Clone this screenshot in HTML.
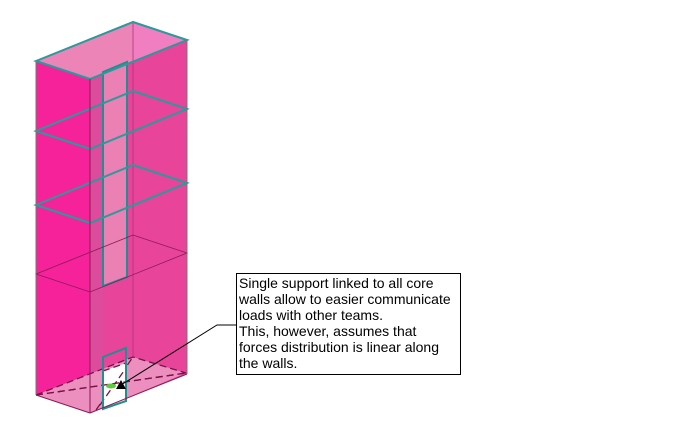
<!DOCTYPE html>
<html><head><meta charset="utf-8"><style>
body{margin:0;background:#fff;}
.t{position:absolute;left:236px;top:273px;border:1px solid #000;background:#fff;font:14px/16px "Liberation Sans",sans-serif;color:#000;padding:1px 0 0 2px;box-sizing:border-box;width:225px;height:102px;white-space:nowrap;overflow:hidden;}
</style></head><body>
<svg width="685" height="423" style="position:absolute;left:0;top:0">
<polygon points="36,61 90,79 90,413 36,395" fill="#f5229a"/>
<polygon points="90,79 187,40 187,374 90,413" fill="#e8449a"/>
<polygon points="90,79 103,74 103,408 90,413" fill="#de4a9c"/>
<polygon points="36,61 133,22 187,40 90,79" fill="#ec84b8"/>
<polygon points="133,22 187,40 133,61" fill="#f47cc4" opacity="0.7"/>
<line x1="133" y1="22" x2="133" y2="356" stroke="#b0327a" stroke-width="0.8"/>
<polygon points="36,395 133,357 186,373 90,413" fill="#ec8fbf"/>
<g fill="none" stroke="#7a1048" stroke-width="1.3" stroke-dasharray="7,4">
<polyline points="36,395 133,357 186,373"/>
<line x1="36" y1="395" x2="186" y2="373"/>
<line x1="96" y1="410" x2="133" y2="357"/>
</g>
<polygon points="103,371 126,363 126,401 103,409" fill="#fff"/>
<line x1="103" y1="371" x2="126" y2="363" stroke="#7a1048" stroke-width="1.3" stroke-dasharray="7,4"/>
<line x1="36" y1="395" x2="186" y2="373" stroke="#7a1048" stroke-width="1.3" stroke-dasharray="7,4"/>
<line x1="100" y1="405" x2="126" y2="368" stroke="#7a1048" stroke-width="1.3" stroke-dasharray="7,4"/>
<polygon points="103,357 126,348 126,401 103,409" fill="none" stroke="#1f8f8f" stroke-width="2"/>
<polygon points="103,72 127,62 127,277 103,286" fill="#ea80b4" stroke="#1f8f8f" stroke-width="2"/>
<polygon points="36,274 133,235 187,253 90,292" fill="none" stroke="#8a1a55" stroke-width="0.8"/>
<g fill="none" stroke="#2a9a9a" stroke-width="2">
<polygon points="36,205 133,165 187,183 90,223"/>
<polygon points="36,131 133,91 187,109 90,149"/>
<polygon points="36,61 133,22 187,40 90,79"/>
</g>
<g stroke="#777" stroke-width="1">
<line x1="36" y1="61" x2="36" y2="395"/>
<line x1="187" y1="40" x2="187" y2="374"/>
</g>
<line x1="90" y1="79" x2="90" y2="413" stroke="#8a1a55" stroke-width="1"/>
<line x1="36" y1="395" x2="90" y2="413" stroke="#8a1a55" stroke-width="1"/>
<line x1="90" y1="413" x2="187" y2="374" stroke="#8a1a55" stroke-width="1"/>
<ellipse cx="111" cy="386" rx="5" ry="2.5" fill="#5ccc3a"/>
<polygon points="121,380 116,389 126,389" fill="#000"/>
<polyline points="236,325 217,325 121,385" fill="none" stroke="#000" stroke-width="1"/>
</svg>
<div class="t">Single support linked to all core<br>walls allow to easier communicate<br>loads with other teams.<br>This, however, assumes that<br>forces distribution is linear along<br>the walls.</div>
</body></html>
